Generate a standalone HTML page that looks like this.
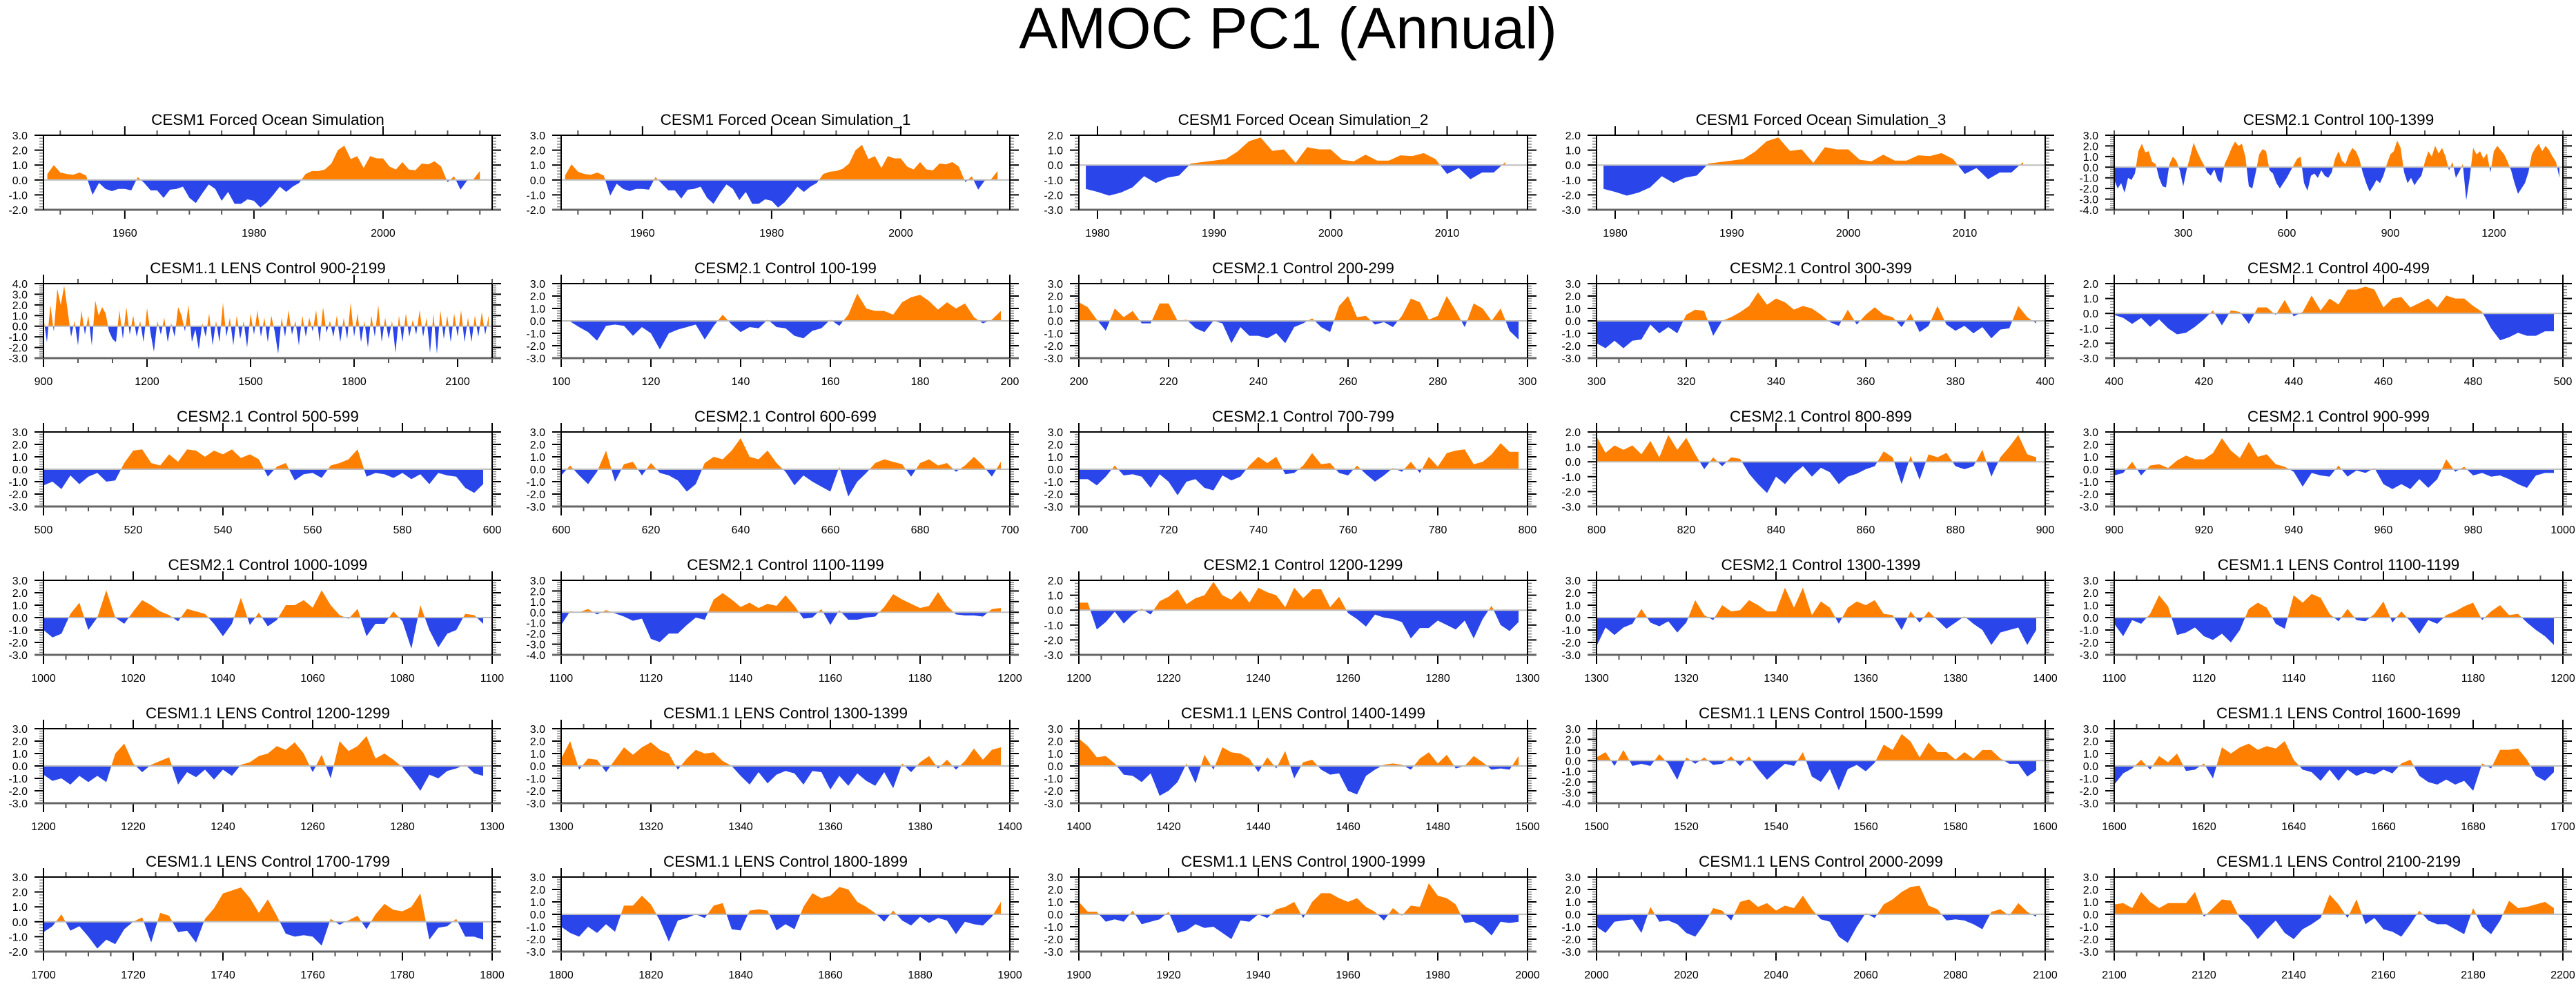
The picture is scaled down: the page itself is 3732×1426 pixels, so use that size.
<!DOCTYPE html>
<html><head><meta charset="utf-8"><title>AMOC PC1 (Annual)</title>
<style>
html,body{margin:0;padding:0;background:#fff;}
svg{display:block;font-family:"Liberation Sans",Arial,sans-serif;}
</style></head>
<body>
<svg id="chart" xmlns="http://www.w3.org/2000/svg" width="3732" height="1426" viewBox="0 0 3732 1426">
<rect x="0" y="0" width="3732" height="1426" fill="#fff"/>
<text x="1866" y="70" text-anchor="middle" font-size="84" fill="#000">AMOC PC1 (Annual)</text>
<g id="panels"></g>
</svg>
<script>
const titles = ["CESM1 Forced Ocean Simulation","CESM1 Forced Ocean Simulation_1","CESM1 Forced Ocean Simulation_2","CESM1 Forced Ocean Simulation_3","CESM2.1 Control 100-1399",
"CESM1.1 LENS Control 900-2199","CESM2.1 Control 100-199","CESM2.1 Control 200-299","CESM2.1 Control 300-399","CESM2.1 Control 400-499",
"CESM2.1 Control 500-599","CESM2.1 Control 600-699","CESM2.1 Control 700-799","CESM2.1 Control 800-899","CESM2.1 Control 900-999",
"CESM2.1 Control 1000-1099","CESM2.1 Control 1100-1199","CESM2.1 Control 1200-1299","CESM2.1 Control 1300-1399","CESM1.1 LENS Control 1100-1199",
"CESM1.1 LENS Control 1200-1299","CESM1.1 LENS Control 1300-1399","CESM1.1 LENS Control 1400-1499","CESM1.1 LENS Control 1500-1599","CESM1.1 LENS Control 1600-1699",
"CESM1.1 LENS Control 1700-1799","CESM1.1 LENS Control 1800-1899","CESM1.1 LENS Control 1900-1999","CESM1.1 LENS Control 2000-2099","CESM1.1 LENS Control 2100-2199"];
const starts = [1948,1948,1979,1979,100,900,100,200,300,400,500,600,700,800,900,1000,1100,1200,1300,1100,1200,1300,1400,1500,1600,1700,1800,1900,2000,2100];
const steps = [1,1,1,1,10,10,2,2,2,2,2,2,2,2,2,2,2,2,2,2,2,2,2,2,2,2,2,2,2,2];
const xMins = [1947.4,1947.4,1978.4,1978.4,100,900,100,200,300,400,500,600,700,800,900,1000,1100,1200,1300,1100,1200,1300,1400,1500,1600,1700,1800,1900,2000,2100];
const xMaxs = [2016.9,2016.9,2016.9,2016.9,1400,2200,200,300,400,500,600,700,800,900,1000,1100,1200,1300,1400,1200,1300,1400,1500,1600,1700,1800,1900,2000,2100,2200];
const yMins = [-2,-2,-3,-3,-4,-3,-3,-3,-3,-3,-3,-3,-3,-3,-3,-3,-4,-3,-3,-3,-3,-3,-3,-4,-3,-2,-3,-3,-3,-3];
const yMaxs = [3,3,2,2,3,4,3,3,3,2,3,3,3,2,3,3,3,2,3,3,3,3,3,3,3,3,3,3,3,3];
const majorSteps = [20,20,10,10,300,300,20,20,20,20,20,20,20,20,20,20,20,20,20,20,20,20,20,20,20,20,20,20,20,20];
const minorSteps = [5,5,2,2,100,100,5,5,5,5,5,5,5,5,5,5,5,5,5,5,5,5,5,5,5,5,5,5,5,5];

const forced0 = [0.4,1.0,0.5,0.4,0.35,0.5,0.3,-1.0,-0.2,-0.6,-0.75,-0.6,-0.6,-0.7,0.2,-0.2,-0.7,-0.7,-1.2,-0.65,-0.6,-0.45,-1.2,-1.55,-0.9,-0.3,-0.6,-1.4,-0.8,-1.6,-1.6,-1.3,-1.4,-1.85,-1.5,-1.0,-0.45,-0.8,-0.45,-0.2,0.4,0.6,0.6,0.7,1.1,2.0,2.3,1.4,1.6,0.8,1.6,1.45,1.45,0.9,0.7,1.2,0.7,0.65,1.1,1.05,1.25,0.9,-0.15,0.25,-0.65,-0.05,0.05,0.6];
const forced1 = [0.3,1.05,0.55,0.4,0.35,0.5,0.3,-1.05,-0.25,-0.6,-0.75,-0.6,-0.6,-0.65,0.2,-0.25,-0.7,-0.7,-1.25,-0.65,-0.6,-0.45,-1.2,-1.6,-0.9,-0.3,-0.6,-1.35,-0.8,-1.6,-1.6,-1.3,-1.4,-1.85,-1.5,-1.0,-0.45,-0.8,-0.45,-0.2,0.4,0.55,0.6,0.75,1.1,2.0,2.35,1.4,1.6,0.8,1.6,1.45,1.45,0.9,0.7,1.2,0.7,0.65,1.1,1.05,1.2,0.9,-0.15,0.25,-0.65,-0.05,0.05,0.6];
const forced2 = [-1.6,-1.8,-2.05,-1.85,-1.5,-0.75,-1.2,-0.85,-0.7,0.1,0.2,0.3,0.4,0.9,1.6,1.85,0.95,1.05,0.15,1.2,1.05,1.05,0.35,0.25,0.7,0.3,0.3,0.65,0.6,0.8,0.4,-0.6,-0.2,-0.95,-0.5,-0.5,0.2];
const forced3 = [-1.6,-1.8,-2.05,-1.85,-1.5,-0.75,-1.2,-0.85,-0.7,0.1,0.2,0.3,0.4,0.9,1.6,1.85,0.95,1.05,0.15,1.2,1.05,1.05,0.35,0.25,0.7,0.3,0.3,0.65,0.6,0.8,0.4,-0.6,-0.2,-0.95,-0.5,-0.5,0.2];
const c2long = [-1.2,-2.0,-1.5,-2.4,-1.0,-1.2,-0.6,1.5,2.2,1.4,1.5,0.5,0.3,-1.0,-1.8,-1.9,0.3,1.0,0.6,-0.3,-1.8,-0.2,1.0,2.3,1.5,0.8,0.2,-0.5,-0.8,-0.2,-1.2,-1.5,0.3,1.0,1.8,2.4,2.0,2.2,1.0,-1.8,-2.0,-0.5,1.2,1.7,1.5,-0.3,-0.6,-1.5,-2.0,-1.5,-1.0,-0.4,0.2,0.8,1.0,-1.5,-2.2,-0.8,-0.6,-1.0,-0.3,-0.8,-1.0,-0.5,0.8,1.5,0.6,0.3,1.2,1.8,1.5,0.8,-0.5,-1.5,-2.3,-1.8,-1.2,-1.5,-0.8,0.3,1.2,1.5,2.5,1.8,-0.5,-1.5,-1.0,-1.7,-1.2,-0.8,0.5,1.5,1.0,2.0,1.3,1.8,1.0,-0.3,0.5,-1.0,-0.4,0.3,-3.1,-1.0,1.8,1.2,1.5,0.8,1.3,-0.5,1.5,2.0,1.6,1.2,0.5,-0.3,-1.5,-2.5,-2.0,-1.5,-0.5,1.2,1.8,2.2,1.5,2.0,1.6,1.0,0.5,-1.0];
const lenslong = [0.8,-1.5,2.0,-0.5,3.5,2.0,3.8,1.5,-1.0,0.5,-1.8,1.5,-0.8,1.0,-1.8,2.4,1.0,1.8,1.2,-0.5,-1.2,-1.5,1.5,-1.2,1.8,-0.8,1.0,-1.0,0.5,-1.5,1.7,-0.6,-2.4,0.5,-0.8,0.8,-1.5,0.3,-1.0,1.8,1.0,-0.5,2.0,-1.5,-0.3,-2.2,0.3,-1.0,1.2,-1.8,0.5,-1.5,2.2,-1.0,0.8,-1.8,1.0,-1.2,0.5,-2.0,1.2,-0.8,1.5,-1.0,0.8,-1.5,1.0,-0.5,-2.6,0.8,-1.0,1.5,-0.8,0.5,-1.8,1.0,-1.0,0.8,-0.5,1.5,-1.5,1.8,-0.6,0.5,-1.0,1.0,-1.5,0.8,-1.2,2.2,-1.0,1.2,-1.5,0.5,-2.0,1.0,-1.0,2.0,-1.5,0.8,-1.2,0.5,-2.5,1.0,-1.5,1.2,-1.0,0.6,-0.8,1.5,-1.0,0.8,-2.5,1.2,-2.6,1.5,-1.2,1.0,-1.5,1.2,-1.0,1.5,-1.5,0.8,-1.5,1.0,-1.0,1.3,-0.8,1.0];
const c100 = [0,-0.05,-0.5,-0.9,-1.6,-0.4,-0.3,-0.4,-1.2,-0.5,-1.0,-2.3,-1.0,-0.7,-0.5,-0.3,-1.5,-0.4,0.5,-0.3,-0.9,-0.5,-0.6,0.1,-0.5,-0.6,-1.2,-1.4,-0.8,-0.6,0.1,-0.4,0.5,2.2,1.0,0.8,0.8,0.5,1.5,1.9,2.1,1.6,0.9,1.5,1.0,1.4,0.3,-0.2,0.1,0.8];
const c200 = [1.5,1.1,0.1,-0.8,1.0,0.3,0.8,-0.2,-0.2,1.4,1.4,0.0,0.1,-0.6,-0.9,0.0,-0.2,-1.8,-0.5,-1.2,-1.2,-1.4,-1.0,-1.8,-0.5,-0.2,0.2,-0.5,-0.9,1.2,2.0,0.3,0.4,-0.3,-0.1,-0.5,0.4,1.8,1.5,0.1,0.4,2.0,0.8,-0.5,1.4,1.0,0.0,1.0,-0.8,-1.5];
const c300 = [-1.8,-2.2,-1.6,-2.2,-1.6,-1.5,-0.3,-1.0,-0.5,-1.0,0.5,0.9,0.8,-1.2,0.0,0.3,0.7,1.2,2.3,1.3,1.8,1.5,0.9,1.2,1.0,0.5,-0.1,-0.4,0.9,-0.3,0.5,1.1,0.5,0.3,-0.5,0.6,-0.9,-0.4,1.2,-0.3,-0.8,-0.4,-1.0,-0.5,-1.4,-0.7,-0.6,1.2,0.3,-0.2];
const c400 = [-0.1,-0.3,-0.7,-0.3,-0.9,-0.4,-1.0,-1.4,-1.3,-0.9,-0.4,0.2,-0.8,0.2,0.1,-0.7,0.4,0.4,-0.1,0.9,-0.2,0.1,1.2,0.2,1.0,0.6,1.6,1.6,1.8,1.6,0.4,1.0,1.1,0.4,0.7,1.0,0.4,1.2,1.0,1.0,0.5,0.1,-1.0,-1.8,-1.6,-1.3,-1.5,-1.5,-1.2,-1.2];
const c500 = [-1.3,-1.0,-1.6,-0.5,-1.2,-0.6,-0.3,-1.0,-0.9,0.5,1.5,1.6,0.5,0.3,1.2,0.6,1.6,1.5,1.0,1.5,1.2,1.6,0.9,1.2,0.8,-0.6,0.2,0.5,-0.9,-0.4,-0.3,-0.7,0.3,0.5,0.8,1.6,-0.6,-0.3,-0.4,-0.7,-0.3,-0.8,-0.4,-1.2,-0.3,-0.5,-0.6,-1.5,-1.9,-1.2];
const c600 = [-0.5,0.3,-0.5,-1.2,-0.2,1.5,-1.0,0.4,0.6,-0.5,0.5,-0.3,-0.5,-0.9,-1.8,-1.2,0.5,1.0,0.8,1.5,2.5,1.0,0.8,1.5,0.5,-0.2,-1.3,-0.5,-1.0,-1.4,-1.8,0.2,-2.2,-1.0,-0.3,0.5,0.8,0.6,0.4,-0.6,0.5,0.8,0.3,0.5,-0.2,0.3,1.0,0.3,-0.6,0.6];
const c700 = [-0.8,-0.8,-1.3,-0.6,0.3,-0.5,-0.4,-0.6,-1.5,-0.4,-1.0,-2.1,-1.0,-0.8,-1.5,-1.7,-0.5,-0.9,-0.6,0.3,1.0,0.5,1.0,-0.4,-0.3,0.3,1.3,0.4,0.5,-0.3,-0.5,0.3,-0.4,-1.0,-0.5,0.1,-0.2,0.6,-0.3,1.0,0.2,1.3,1.5,1.6,0.4,0.6,1.2,2.1,1.4,1.4];
const c800 = [1.7,0.6,1.1,0.8,1.1,0.5,1.4,0.3,1.8,0.8,1.6,0.5,-0.5,0.3,-0.3,0.3,0.2,-0.8,-1.5,-2.1,-1.0,-1.5,-0.8,-0.3,-1.0,-0.4,-0.7,-1.5,-1.0,-0.8,-0.5,-0.3,0.7,0.3,-1.5,0.4,-1.2,0.5,0.3,0.6,-0.3,-0.5,-0.3,0.8,-1.0,0.3,1.0,1.8,0.5,0.3];
const c900 = [-0.5,-0.3,0.6,-0.5,0.3,0.4,0.1,0.7,1.1,0.8,0.8,1.3,2.5,1.5,0.9,2.2,1.0,1.2,0.4,0.2,-0.2,-1.4,-0.3,-0.5,-0.6,0.3,-0.6,-0.1,-0.3,0.1,-1.2,-1.6,-1.2,-1.6,-0.8,-1.5,-0.8,0.8,-0.2,0.2,-0.5,-0.3,-0.6,-0.5,-0.8,-1.2,-1.5,-0.5,-0.3,-0.3];
const c1000 = [-1.0,-1.6,-1.3,0.3,1.2,-1.0,0.0,2.2,0.0,-0.5,0.5,1.4,1.0,0.5,0.2,-0.3,0.7,0.5,0.3,-0.5,-1.5,-0.5,1.6,-0.6,0.4,-0.7,-0.2,1.0,1.0,1.4,0.8,2.2,1.0,0.2,-0.1,0.7,-1.5,-0.5,-0.5,0.5,-0.3,-2.5,1.0,-1.0,-2.4,-1.3,-1.0,0.3,0.2,-0.5];
const c1100 = [-1.2,0.1,0.0,0.3,-0.2,0.2,-0.1,-0.4,-0.8,-0.6,-2.5,-2.8,-2.0,-2.0,-1.2,-0.5,-0.7,1.2,1.8,1.2,0.5,0.9,0.4,0.8,0.6,1.6,0.6,-0.6,-0.5,0.3,-1.2,0.2,-0.7,-0.7,-0.5,-0.4,0.5,1.7,1.2,0.8,0.4,0.6,1.9,0.6,-0.2,-0.3,-0.3,-0.4,0.3,0.4];
const c1200 = [0.5,0.5,-1.3,-0.8,-0.1,-0.9,-0.3,0.1,-0.3,0.6,0.9,1.4,0.4,0.8,1.0,1.9,1.0,0.7,1.3,0.5,1.5,1.2,1.0,0.2,1.5,0.8,1.4,1.4,0.2,0.9,-0.2,-0.6,-1.1,-0.3,-0.5,-0.6,-0.8,-1.9,-1.2,-1.2,-0.7,-1.0,-1.3,-0.7,-1.9,-0.6,0.3,-1.0,-1.4,-0.8];
const c1300 = [-2.3,-0.8,-1.4,-0.8,-0.5,0.7,-0.4,-0.7,-0.3,-1.2,-0.4,1.4,0.2,-0.2,1.0,0.5,0.6,1.4,1.0,0.5,0.5,2.4,0.8,2.4,0.2,1.3,0.8,-0.5,0.8,1.3,1.0,1.4,0.3,0.2,-1.0,0.5,-0.4,0.5,-0.2,-0.9,-0.4,0.1,-0.5,-1.0,-2.2,-1.2,-1.0,-0.8,-2.2,-1.0];
const l1100 = [-0.5,-1.5,-0.2,-0.5,0.3,1.8,0.9,-1.4,-1.2,-0.8,-1.5,-1.8,-1.3,-2.0,-1.0,0.7,1.2,0.8,-0.5,-0.9,1.8,1.2,1.9,1.6,0.3,-0.3,0.7,-0.2,-0.3,0.3,1.3,-0.4,0.5,-0.3,-1.3,-0.2,-0.5,0.2,0.5,0.9,1.2,-0.2,0.5,1.0,0.2,0.3,-0.4,-1.0,-1.5,-2.2];
const l1200 = [-0.7,-1.2,-1.0,-1.5,-0.8,-1.3,-0.8,-1.3,1.0,1.8,0.2,-0.5,0.1,0.4,0.7,-1.5,-0.5,-0.9,-0.3,-1.1,-0.3,-0.8,0.1,0.3,0.8,1.0,1.6,1.3,1.9,1.0,-0.5,0.9,-1.0,2.0,1.2,1.6,2.4,0.6,1.0,0.5,-0.1,-1.0,-2.0,-0.7,-1.0,-0.4,-0.2,0.1,-0.6,-0.8];
const l1300 = [0.6,2.0,-0.3,0.6,0.5,-0.5,0.5,1.5,0.9,1.5,1.9,1.3,1.0,-0.3,0.6,1.3,1.0,1.1,0.4,0.0,-0.8,-1.5,-0.5,-1.4,-0.7,-0.4,-0.6,-1.5,-0.4,-0.5,-1.9,-0.8,-1.6,-0.6,-1.2,-1.6,-0.5,-1.8,0.2,-0.5,0.3,0.8,-0.2,0.5,-0.3,0.4,1.4,0.5,1.3,1.5];
const l1400 = [2.2,1.6,0.7,0.8,0.2,-0.7,-0.8,-1.3,-0.6,-2.4,-2.0,-1.3,0.2,-1.4,0.9,-0.3,1.5,1.1,1.0,0.6,-0.5,0.7,-0.2,1.2,-1.0,0.3,0.5,-0.3,-0.7,-0.6,-2.0,-2.3,-0.8,-0.3,0.1,0.2,0.1,-0.3,0.6,1.1,0.2,0.9,-0.2,0.0,0.8,0.3,-0.3,-0.2,-0.3,0.8];
const l1500 = [0.3,0.8,-0.5,1.0,-0.5,-0.3,-0.5,0.6,-0.3,-1.8,0.3,-0.3,0.3,-0.4,-0.3,0.4,-0.5,0.4,-0.8,-1.8,-1.0,-0.3,-0.5,0.8,-1.5,-2.0,-0.8,-2.8,-0.8,-0.4,-1.0,-0.2,1.5,1.0,2.5,1.8,0.3,1.7,0.8,0.8,0.1,0.8,0.2,1.0,1.0,0.2,-0.3,-0.3,-1.5,-0.9];
const l1600 = [-1.5,-0.6,-0.2,0.5,-0.3,0.8,0.3,1.0,-0.4,-0.3,0.2,-1.0,1.5,1.0,1.5,1.8,1.3,1.6,1.4,2.0,0.5,-0.3,-0.5,-1.2,-0.3,-1.2,-0.3,-0.8,-0.5,-0.7,-0.3,-0.6,0.2,0.5,-0.8,-1.3,-1.5,-1.1,-1.5,-1.2,-2.0,0.2,-0.2,1.3,1.3,1.4,0.5,-0.8,-1.2,-0.5];
const l1700 = [-0.7,-0.3,0.5,-0.6,-0.3,-1.0,-1.8,-1.2,-1.5,-0.5,0.0,0.3,-1.4,0.6,0.4,-0.7,-0.6,-1.4,0.2,0.9,1.9,2.1,2.3,1.6,0.6,1.5,0.4,-0.8,-1.0,-0.9,-1.0,-1.6,0.2,-0.2,0.1,0.4,-0.5,0.5,1.2,0.8,0.7,1.0,1.9,-1.2,-0.4,-0.3,0.2,-1.0,-1.0,-1.2];
const l1800 = [-1.0,-1.5,-1.8,-1.0,-1.5,-0.8,-1.4,0.7,0.7,1.5,0.8,-0.5,-2.2,-0.5,-0.3,0.0,-0.3,0.7,0.9,-1.2,-1.3,0.3,0.4,0.3,-1.3,-0.8,-1.2,0.6,1.7,1.3,1.5,2.2,2.0,1.0,0.6,0.1,-0.6,0.3,-0.5,-0.9,-0.2,-0.7,-0.3,-0.5,-1.6,-0.6,-0.8,-0.9,-0.2,1.0];
const l1900 = [1.0,0.2,0.2,-0.6,-0.4,-0.6,0.3,-0.8,-0.6,-0.4,0.2,-1.5,-1.3,-0.8,-1.1,-1.0,-1.5,-2.0,-0.5,-0.6,0.0,-0.3,0.4,0.6,1.0,-0.3,1.0,1.7,1.7,1.3,1.0,1.3,0.6,0.2,-0.5,0.5,-0.1,0.7,0.6,2.5,1.5,1.3,0.8,-0.7,-0.6,-1.0,-1.7,-0.6,-0.7,-0.6];
const l2000 = [-1.0,-1.5,-0.6,-0.5,-0.4,-1.5,0.6,-0.6,-0.5,-0.8,-1.5,-1.8,-0.8,0.5,0.3,-0.5,1.0,1.2,0.6,0.9,0.3,0.7,0.5,1.5,0.4,-0.4,-0.6,-1.8,-2.3,-1.0,0.1,-0.3,0.8,1.2,1.8,2.2,2.3,0.7,0.4,-0.5,-0.4,-0.5,-0.8,-1.2,0.2,0.4,-0.1,0.9,0.2,-0.2];
const l2100 = [0.8,0.9,0.5,1.8,1.0,0.5,0.9,0.9,0.9,1.8,-0.2,0.5,1.2,1.1,-0.3,-1.0,-2.0,-1.2,-0.5,-1.5,-2.0,-1.2,-0.8,-0.3,1.6,0.8,-0.3,1.2,-0.8,-0.3,-1.2,-1.4,-1.8,-0.8,0.3,-0.5,-0.8,-0.8,-1.2,-1.6,0.5,-1.0,-1.6,-0.5,1.1,0.5,0.6,0.8,1.0,0.5];

const seriesList = [forced0,forced1,forced2,forced3,c2long,lenslong,c100,c200,c300,c400,c500,c600,c700,c800,c900,c1000,c1100,c1200,c1300,l1100,l1200,l1300,l1400,l1500,l1600,l1700,l1800,l1900,l2000,l2100];

const NS = "http://www.w3.org/2000/svg";
const root = document.getElementById('panels');
const BOX_W = 650, BOX_H = 108, COL_DX = 750, ROW_DY = 215, X0 = 63, Y0 = 196;
function mk(tag, attrs, parent){
  const e = document.createElementNS(NS, tag);
  for (const k in attrs) e.setAttribute(k, attrs[k]);
  parent.appendChild(e);
  return e;
}
function fmt(v){ return v.toFixed(1); }

for (let p = 0; p < titles.length; p++) {
  const col = p % 5, row = Math.floor(p / 5);
  const L = X0 + col * COL_DX, T = Y0 + row * ROW_DY, R = L + BOX_W, B = T + BOX_H;
  const xmin = xMins[p], xmax = xMaxs[p], ymin = yMins[p], ymax = yMaxs[p];
  const xs = v => L + (v - xmin) / (xmax - xmin) * BOX_W;
  const ys = v => B - (v - ymin) / (ymax - ymin) * BOX_H;
  const g = mk('g', {}, root);
  
  

  const title = mk('text', {x: L + BOX_W / 2, y: T - 15, 'text-anchor': 'middle', 'font-size': 22.5, fill: '#000'}, g);
  title.textContent = titles[p];
  
  

  // area series
  const vals = seriesList[p];
  const y0 = ys(0);
  let d = 'M' + xs(starts[p]).toFixed(2) + ',' + y0.toFixed(2);
  for (let i = 0; i < vals.length; i++) {
    d += ' L' + xs(starts[p] + i * steps[p]).toFixed(2) + ',' + ys(vals[i]).toFixed(2);
  }
  d += ' L' + xs(starts[p] + (vals.length - 1) * steps[p]).toFixed(2) + ',' + y0.toFixed(2) + ' Z';
  const cpPos = mk('clipPath', {id: 'cpp' + p}, g);
  mk('rect', {x: L, y: T - 5, width: BOX_W, height: y0 - T + 5}, cpPos);
  const cpNeg = mk('clipPath', {id: 'cpn' + p}, g);
  mk('rect', {x: L, y: y0, width: BOX_W, height: B - y0 + 5}, cpNeg);
  const pos = mk('path', {d: d, fill: '#ff8000', 'clip-path': 'url(#cpp' + p + ')'}, g);
  
  
  const neg = mk('path', {d: d, fill: '#2a45ea', 'clip-path': 'url(#cpn' + p + ')'}, g);
  
  
  const zl = mk('line', {x1: L, x2: R, y1: y0, y2: y0, stroke: '#bdbdbd', 'stroke-width': 2}, g);
  
  

  // y ticks
  for (let v = ymin; v <= ymax + 1e-9; v += 1) {
    const y = ys(v);
    mk('line', {x1: L - 13, x2: L, y1: y, y2: y, stroke: '#000', 'stroke-width': 2}, g);
    mk('line', {x1: R, x2: R + 13, y1: y, y2: y, stroke: '#000', 'stroke-width': 2}, g);
    const lb = mk('text', {x: L - 23, y: y + 6, 'text-anchor': 'end', 'font-size': 16, fill: '#000'}, g);
    lb.textContent = fmt(v);
    
    
    if (v < ymax) {
      for (let k = 1; k < 5; k++) {
        const ym = ys(v + k * 0.2);
        mk('line', {x1: L - 6, x2: L, y1: ym, y2: ym, stroke: '#888', 'stroke-width': 1.5}, g);
        mk('line', {x1: R, x2: R + 6, y1: ym, y2: ym, stroke: '#888', 'stroke-width': 1.5}, g);
      }
    }
  }
  // x ticks
  const ms = minorSteps[p], MS = majorSteps[p];
  for (let v = Math.ceil(xmin / ms) * ms; v <= xmax + 1e-9; v += ms) {
    const x = xs(v);
    const major = Math.abs(v / MS - Math.round(v / MS)) < 1e-9;
    const len = major ? 13 : 7;
    mk('line', {x1: x, x2: x, y1: T - len, y2: T, stroke: major ? '#000' : '#555', 'stroke-width': 2}, g);
    mk('line', {x1: x, x2: x, y1: B, y2: B + len, stroke: major ? '#000' : '#555', 'stroke-width': 2}, g);
    if (major) {
      const lb = mk('text', {x: x, y: B + 39, 'text-anchor': 'middle', 'font-size': 16, fill: '#000'}, g);
      lb.textContent = String(v);
      
      
    }
  }
  // frame
  mk('line', {x1: L, x2: R, y1: T, y2: T, stroke: '#000', 'stroke-width': 2}, g);
  mk('line', {x1: L - 13, x2: R + 13, y1: B, y2: B, stroke: '#666', 'stroke-width': 3}, g);
  mk('line', {x1: L, x2: L, y1: T, y2: B, stroke: '#000', 'stroke-width': 2}, g);
  mk('line', {x1: R, x2: R, y1: T, y2: B, stroke: '#000', 'stroke-width': 2}, g);
}
</script>
</body></html>
